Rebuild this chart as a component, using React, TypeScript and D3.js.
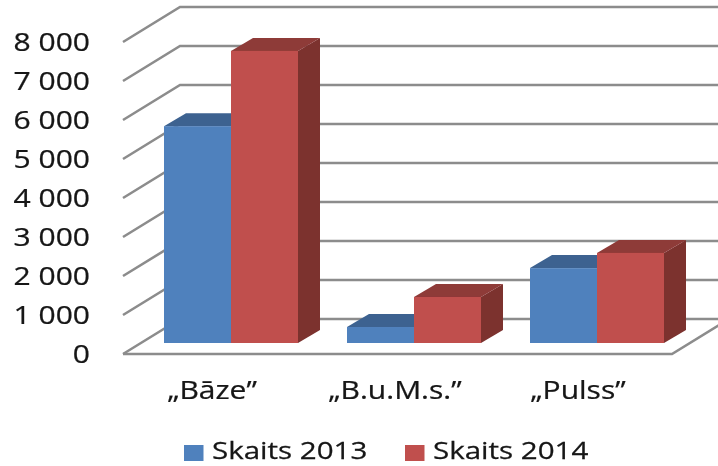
import React from "react";
import * as d3 from "d3";

const categories = ["„Bāze”", "„B.u.M.s.”", "„Pulss”"];
const skaits2013 = [5560, 410, 1920];
const skaits2014 = [7490, 1180, 2310];
const seriesNames = ["Skaits 2013", "Skaits 2014"];
const yTicks = [0, 1000, 2000, 3000, 4000, 5000, 6000, 7000, 8000];

const W = 718;
const H = 466;
const font = "'Open Sans', sans-serif";

// front plane of the fake 3d box
const scX = d3.scaleBand().domain(categories).range([123, 672]);
const scY = d3.scaleLinear().domain([0, 8000]).range([354, 42]);

// floor depth, and how far the bars sit in from the front / their own depth
const depthX = 57, depthY = 35;
const inX = 16.5, inY = 11;
const barDX = 22, barDY = 13;
const barW = 67;

const fmt = (v: number) => d3.format(",")(v).replace(",", " ");

const colors = [
  { front: "#4f81bd", top: "#3c6290", side: "#3a5f8b" },
  { front: "#c0504d", top: "#8e3a38", side: "#7b302e" },
];

function Bar({ x, value, c }: { x: number; value: number; c: typeof colors[0] }) {
  const yB = scY(0) - inY;
  const yT = scY(value) - inY;
  const line = d3.line();
  return (
    <g>
      <path d={line([[x + barW, yT], [x + barW + barDX, yT - barDY], [x + barW + barDX, yB - barDY], [x + barW, yB]]) + "Z"} fill={c.side} />
      <path d={line([[x, yT], [x + barDX, yT - barDY], [x + barW + barDX, yT - barDY], [x + barW, yT]]) + "Z"} fill={c.top} />
      <rect x={x} y={yT} width={barW} height={yB - yT} fill={c.front} />
    </g>
  );
}

export default function App() {
  const line = d3.line();
  const right = scX.range()[1];
  return (
    <svg width={W} height={H} style={{ position: "absolute", left: 0, top: 0, background: "#fff" }}>
      <defs>
        <filter id="soft" x="-5%" y="-5%" width="110%" height="110%">
          <feGaussianBlur stdDeviation="0.6" />
        </filter>
      </defs>
      <g filter="url(#soft)">
        {yTicks.map((t) => (
          <path
            key={t}
            d={line([[123, scY(t)], [123 + depthX, scY(t) - depthY], [right + depthX, scY(t) - depthY]]) as string}
            fill="none"
            stroke="#8c8c8c"
            strokeWidth={2.6}
          />
        ))}
        <path
          d={line([[123, scY(0)], [right, scY(0)], [right + depthX, scY(0) - depthY]]) as string}
          fill="none"
          stroke="#8c8c8c"
          strokeWidth={2.6}
        />
        {categories.map((cat, i) => {
          const cx = (scX(cat) as number) + scX.bandwidth() / 2 + inX;
          return (
            <g key={cat}>
              <Bar x={cx - barW} value={skaits2013[i]} c={colors[0]} />
              <Bar x={cx} value={skaits2014[i]} c={colors[1]} />
            </g>
          );
        })}
      </g>
      <g fontFamily={font} fill="#141414" stroke="#141414" strokeWidth={0.25} filter="url(#soft)">
        {yTicks.map((t) => (
          <text key={t} transform={`translate(90,${scY(t) + 8.5}) scale(1.2,1)`} textAnchor="end" fontSize={25}>
            {fmt(t)}
          </text>
        ))}
        {categories.map((cat) => (
          <text
            key={cat}
            transform={`translate(${(scX(cat) as number) + scX.bandwidth() / 2 - 2.5},399) scale(1.2,1)`}
            textAnchor="middle"
            fontSize={25}
          >
            {cat}
          </text>
        ))}
        {seriesNames.map((s, i) => (
          <g key={s} stroke="none">
            <rect x={184 + i * 221} y={445} width={19.5} height={16} fill={colors[i].front} />
            <text transform={`translate(${212 + i * 221},459) scale(1.23,1)`} fontSize={24} stroke="#141414" strokeWidth={0.25}>
              {s}
            </text>
          </g>
        ))}
      </g>
    </svg>
  );
}
